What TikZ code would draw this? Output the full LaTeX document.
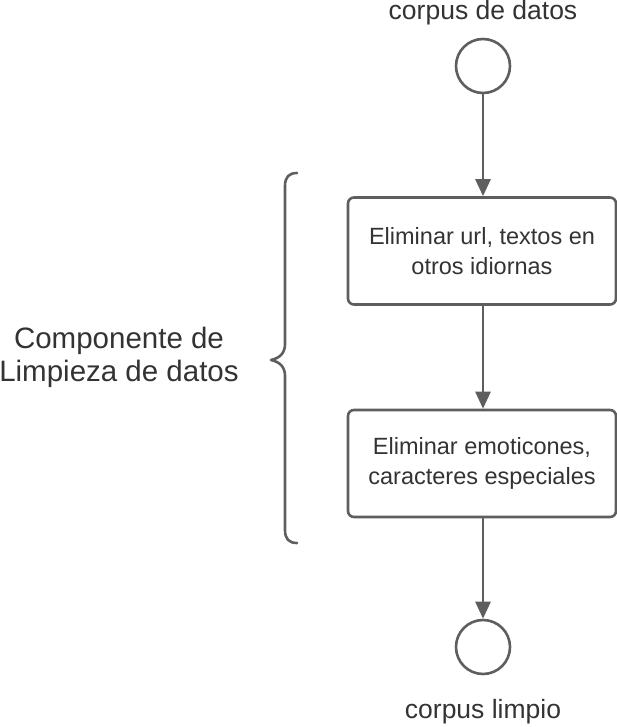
\documentclass[tikz,border=0pt]{standalone}
\usepackage{fontspec}
\setmainfont{Liberation Sans}
\usetikzlibrary{arrows.meta}
\definecolor{linegray}{HTML}{5E5E5E}
\definecolor{textgray}{HTML}{333333}
\tikzset{
  flowline/.style={draw=linegray, line width=2.6pt, -{Triangle[length=17pt,width=15pt]}},
  endcircle/.style={circle, draw=linegray, line width=2.6pt, minimum size=54pt, inner sep=0pt},
  procbox/.style={rectangle, rounded corners=6pt, draw=linegray, line width=2.6pt, minimum width=268pt, minimum height=107pt, align=center, text=textgray, font=\fontsize{23.5}{30}\selectfont},
  lbl/.style={text=textgray, font=\fontsize{26.5}{30}\selectfont, inner sep=0pt},
  bigl/.style={text=textgray, font=\fontsize{29.5}{33}\selectfont, align=center, inner sep=0pt}
}
\begin{document}
\begin{tikzpicture}[x=1pt,y=-1pt]
\useasboundingbox (0,0) rectangle (617,727);
\node[lbl] (tl) at (483,13) {corpus de datos};
\node[endcircle] (c1) at (483,66) {};
\node[procbox] (b1) at (482,251) {Eliminar url, textos en\\otros idiornas};
\node[procbox] (b2) at (482,463.5) {Eliminar emoticones,\\caracteres especiales};
\node[endcircle] (c2) at (483,647) {};
\node[lbl] (bl) at (483,712) {corpus limpio};
\node[bigl] (comp) at (119,357) {Componente de\\Limpieza de datos};
\draw[flowline] (c1) -- (c1 |- b1.north);
\draw[flowline] (b1.south -| c1) -- (b2.north -| c1);
\draw[flowline] (b2.south -| c2) -- (c2);
\coordinate (brt) at (297,173);
\coordinate (brm) at (271,360);
\coordinate (brb) at (297,543);
\draw[linegray, line width=2.6pt, line cap=round, line join=round]
  (brt) .. controls (289,173) and (285,177) .. (285,186)
  -- (285,344) .. controls (285,353) and (280,358) .. (brm)
  .. controls (280,362) and (285,367) .. (285,376)
  -- (285,530) .. controls (285,539) and (289,543) .. (brb);
\end{tikzpicture}
\end{document}
